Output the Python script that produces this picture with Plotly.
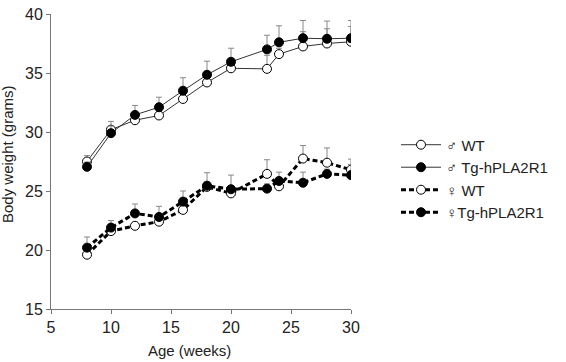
import plotly.graph_objects as go

weeks = [8, 10, 12, 14, 16, 18, 20, 23, 24, 26, 28, 30]

male_wt = [27.5, 30.2, 31.0, 31.4, 32.8, 34.2, 35.4, 35.35, 36.6, 37.25, 37.5, 37.65]
male_wt_err = [0.5, 0.7, 0.3, 0.3, 0.4, 0.4, 0.4, 1.15, 0.5, 1.25, 1.25, 1.3]
male_tg = [27.05, 29.9, 31.45, 32.1, 33.5, 34.85, 35.95, 37.0, 37.6, 37.95, 37.9, 37.95]
male_tg_err = [0.4, 0.6, 0.8, 0.85, 1.1, 1.15, 1.15, 1.2, 1.4, 1.5, 1.5, 1.5]

fem_wt = [19.6, 21.6, 22.05, 22.4, 23.4, 25.35, 24.8, 26.45, 25.4, 27.75, 27.4, 26.8]
fem_wt_err = [0.3, 0.3, 0.3, 0.3, 0.3, 0.4, 0.5, 1.2, 0.4, 1.1, 1.25, 0.9]
fem_tg = [20.2, 21.9, 23.1, 22.8, 24.1, 25.45, 25.15, 25.2, 25.85, 25.7, 26.45, 26.35]
fem_tg_err = [0.9, 0.6, 0.8, 0.9, 0.9, 1.1, 1.2, 0.4, 0.75, 0.9, 0.4, 0.9]

x_ticks = [5, 10, 15, 20, 25, 30]
y_ticks = [15, 20, 25, 30, 35, 40]

x_title = "Age (weeks)"
y_title = "Body weight (grams)"

series = [
    ("\u2642 WT", male_wt, male_wt_err, "white", dict(color="#333333", width=1)),
    ("\u2642 Tg-hPLA2R1", male_tg, male_tg_err, "black", dict(color="#333333", width=1)),
    ("\u2640 WT", fem_wt, fem_wt_err, "white", dict(color="black", width=3, dash="5px,3px")),
    ("\u2640Tg-hPLA2R1", fem_tg, fem_tg_err, "black", dict(color="black", width=3, dash="5px,3px")),
]

FONT = "Liberation Sans, Arial, Helvetica, sans-serif"

fig = go.Figure()
for name, vals, errs, fill, line in series:
    fig.add_trace(go.Scatter(
        x=weeks, y=vals, name=name, mode="lines+markers",
        line=line,
        marker=dict(symbol="circle", size=9, color=fill, line=dict(color="black", width=1)),
        error_y=dict(type="data", array=errs, arrayminus=[0] * len(errs), symmetric=False,
                     color="#888888", thickness=1, width=3),
    ))

axis_common = dict(
    showline=True, linecolor="#777777", linewidth=1,
    ticks="outside", ticklen=4, tickcolor="#777777", tickwidth=1,
    showgrid=False, zeroline=False, ticklabeloverflow="allow",
    tickfont=dict(family=FONT, size=16, color="#222222"),
)

fig.update_layout(
    width=566, height=362,
    margin=dict(l=51, r=215, t=6, b=53),
    paper_bgcolor="white", plot_bgcolor="white",
    showlegend=True,
    legend=dict(
        x=1.15, y=0.612, xanchor="left", yanchor="top",
        font=dict(family=FONT, size=15, color="#222222"),
        tracegroupgap=0, itemwidth=40,
        bgcolor="rgba(0,0,0,0)",
    ),
    xaxis=dict(range=[5, 30], tickvals=x_ticks, **axis_common),
    yaxis=dict(range=[15, 40], tickvals=y_ticks, **axis_common),
    annotations=[
        dict(text=x_title, xref="paper", yref="paper", x=0.463, y=-0.142,
             xanchor="center", yanchor="middle", showarrow=False,
             font=dict(family=FONT, size=15, color="#222222")),
        dict(text=y_title, xref="paper", yref="paper", x=-0.147, y=0.525,
             xanchor="center", yanchor="middle", showarrow=False, textangle=-90,
             font=dict(family=FONT, size=15, color="#222222")),
    ],
)

fig.write_html(
    "out.html",
    config={"displayModeBar": False},
    post_script="document.body.style.margin='0';document.body.style.padding='0';",
)
